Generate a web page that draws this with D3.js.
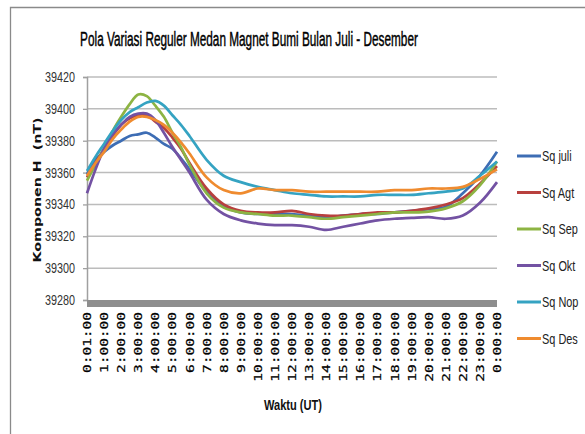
<!DOCTYPE html>
<html>
<head>
<meta charset="utf-8">
<script src="https://cdn.jsdelivr.net/npm/d3@7"></script>
<style>
body { margin: 0; background: #fff; }
svg { display: block; }
</style>
</head>
<body>
<script>
// data (nT), hours since 0:00 UT
var hours = [0, 0.5, 1, 1.5, 2, 2.5, 3, 3.5, 4, 4.5, 5, 5.5, 6, 7, 8, 9, 10, 11, 12, 13, 14, 15, 16, 17, 18, 19, 20, 21, 22, 23, 24];

var sqJuli = [39359, 39368, 39373, 39377, 39380, 39383, 39384, 39385, 39382, 39378, 39375, 39369, 39362, 39348, 39339, 39335, 39334, 39334, 39334, 39333, 39332, 39333, 39334, 39334, 39335, 39336, 39337, 39338.5, 39347, 39358, 39373];
var sqAgt  = [39357, 39366, 39375, 39383, 39390, 39394, 39396, 39396, 39392, 39388, 39382, 39375, 39366, 39350, 39340, 39336, 39335, 39335, 39336, 39334, 39333, 39333, 39334, 39335, 39335, 39336, 39337.5, 39340, 39344, 39353, 39364];
var sqSep  = [39355, 39365, 39375, 39386, 39395, 39403, 39409, 39408, 39402, 39395, 39385, 39376, 39365, 39347, 39338, 39335, 39334, 39333, 39333, 39332, 39331, 39332, 39333, 39334, 39335, 39335, 39335.5, 39337.5, 39342, 39352, 39367];
var sqOkt  = [39347, 39362, 39375, 39384, 39390, 39395, 39397, 39397, 39393, 39385, 39376, 39368, 39360, 39343, 39334, 39330, 39328, 39327, 39327, 39326, 39324, 39326, 39328, 39330, 39331, 39331.5, 39332, 39331, 39333, 39341, 39354];
var sqNop  = [39361, 39370, 39378, 39386, 39393, 39398, 39401, 39404, 39405, 39402, 39396, 39390, 39383, 39368, 39358, 39354, 39351, 39349, 39347, 39346, 39345, 39345, 39345, 39346, 39346, 39346, 39347, 39348, 39350, 39358, 39367];
var sqDes  = [39358, 39366, 39373, 39381, 39387, 39392, 39395, 39395, 39393, 39390, 39385, 39379, 39372, 39357, 39349, 39347, 39350, 39349, 39349, 39348, 39348, 39348, 39348, 39348, 39349, 39349, 39350, 39350, 39351, 39356, 39362];

var seriesNames = ["Sq juli", "Sq Agt", "Sq Sep", "Sq Okt", "Sq Nop", "Sq Des"];
var seriesValues = [sqJuli, sqAgt, sqSep, sqOkt, sqNop, sqDes];
var seriesColors = ["#3d6db4", "#b8403e", "#8db443", "#7352a3", "#35a3c2", "#ef8b2f"];

var yTicks = [39280, 39300, 39320, 39340, 39360, 39380, 39400, 39420];
var xTickHours = d3.range(0, 25);
var xTickLabels = ["0:01:00", "1:00:00", "2:00:00", "3:00:00", "4:00:00", "5:00:00", "6:00:00", "7:00:00",
  "8:00:00", "9:00:00", "10:00:00", "11:00:00", "12:00:00", "13:00:00", "14:00:00", "15:00:00",
  "16:00:00", "17:00:00", "18:00:00", "19:00:00", "20:00:00", "21:00:00", "22:00:00", "23:00:00", "0:00:00"];

var W = 585, H = 434;
var sans = "'Liberation Sans', Arial, sans-serif";

var svg = d3.select("body").append("svg")
    .attr("width", W)
    .attr("height", H);

// chart frame (runs off right and bottom)
svg.append("path")
    .attr("d", "M10.5," + (H + 2) + "V7.5H" + (W + 2))
    .attr("fill", "none")
    .attr("stroke", "#8a8a8a")
    .attr("stroke-width", 1.3);

var x = d3.scaleLinear().domain([0, 24]).range([87, 497]);
var y = d3.scaleLinear().domain([39280, 39420]).range([300, 77]);

// gridlines
svg.append("g")
    .selectAll("line")
    .data(yTicks.slice(1))
    .enter().append("line")
    .attr("x1", 87).attr("x2", 497)
    .attr("y1", function(d){ return y(d); })
    .attr("y2", function(d){ return y(d); })
    .attr("stroke", "#bcbcbc")
    .attr("stroke-width", 1.5);

// y axis
var yAxis = svg.append("g")
    .attr("transform", "translate(87,0)")
    .call(d3.axisLeft(y).tickValues(yTicks).tickSize(4).tickPadding(8).tickFormat(d3.format("d")));
yAxis.select(".domain").attr("stroke", "#a0a0a0").attr("stroke-width", 1.5);
yAxis.selectAll(".tick line").attr("stroke", "#a0a0a0").attr("stroke-width", 1.3);
yAxis.selectAll("text")
    .attr("font-family", sans)
    .attr("font-size", 14)
    .attr("textLength", 30)
    .attr("lengthAdjust", "spacingAndGlyphs")
    .attr("fill", "#333");

// thick grey base bar
svg.append("rect")
    .attr("x", x(0))
    .attr("y", y(39280))
    .attr("width", x(24) - x(0))
    .attr("height", 7)
    .attr("fill", "#8e8e8e");

// x tick labels, rotated
svg.append("g")
    .selectAll("text")
    .data(xTickHours)
    .enter().append("text")
    .attr("transform", function(d){ return "translate(" + (x(d) + 4) + ",312) rotate(-90) scale(1,0.75)"; })
    .attr("text-anchor", "end")
    .attr("font-family", "'DejaVu Sans Mono', monospace")
    .attr("font-size", 14.5)
    .attr("fill", "#000")
    .attr("stroke", "#000")
    .attr("stroke-width", 0.3)
    .text(function(d, i){ return xTickLabels[i]; });

// series lines
var line = d3.line()
    .x(function(d, i){ return x(hours[i]); })
    .y(function(d){ return y(d); })
    .curve(d3.curveCatmullRom.alpha(0.5));

svg.append("g")
    .selectAll("path")
    .data(seriesValues)
    .enter().append("path")
    .attr("d", line)
    .attr("fill", "none")
    .attr("stroke", function(d, i){ return seriesColors[i]; })
    .attr("stroke-width", 2.7)
    .attr("stroke-linejoin", "round");

// title - squeezed to the narrow look of the original
var title = svg.append("text")
    .attr("text-anchor", "middle")
    .attr("font-family", sans)
    .attr("font-size", 20)
    .attr("fill", "#000")
    .attr("stroke", "#000")
    .attr("stroke-width", 0.45)
    .text("Pola Variasi Reguler Medan Magnet Bumi Bulan Juli - Desember");
var tw = title.node().getComputedTextLength();
title.attr("transform", "translate(249,46) scale(" + (338 / tw) + ",1)");

// axis titles
svg.append("text")
    .attr("transform", "translate(41,190) rotate(-90) scale(1,0.8)")
    .attr("text-anchor", "middle")
    .attr("font-family", "'DejaVu Sans', sans-serif")
    .attr("font-weight", "bold")
    .attr("font-size", 13)
    .attr("textLength", 145)
    .attr("lengthAdjust", "spacingAndGlyphs")
    .attr("fill", "#111")
    .style("white-space", "pre")
    .text("Komponen H  (nT)");

svg.append("text")
    .attr("x", 293).attr("y", 410)
    .attr("text-anchor", "middle")
    .attr("font-family", sans)
    .attr("font-weight", "bold")
    .attr("font-size", 15)
    .attr("textLength", 58)
    .attr("lengthAdjust", "spacingAndGlyphs")
    .attr("fill", "#111")
    .text("Waktu (UT)");

// legend
var legend = svg.append("g")
    .selectAll("g")
    .data(seriesNames)
    .enter().append("g")
    .attr("transform", function(d, i){ return "translate(517," + (156 + i * 36.5) + ")"; });

legend.append("line")
    .attr("x1", 0).attr("x2", 24)
    .attr("stroke", function(d, i){ return seriesColors[i]; })
    .attr("stroke-width", 3);

legend.append("text")
    .attr("transform", "translate(25,5) scale(0.78,1)")
    .attr("font-family", sans)
    .attr("font-size", 14)
    .attr("fill", "#222")
    .text(function(d){ return d; });
</script>
</body>
</html>
